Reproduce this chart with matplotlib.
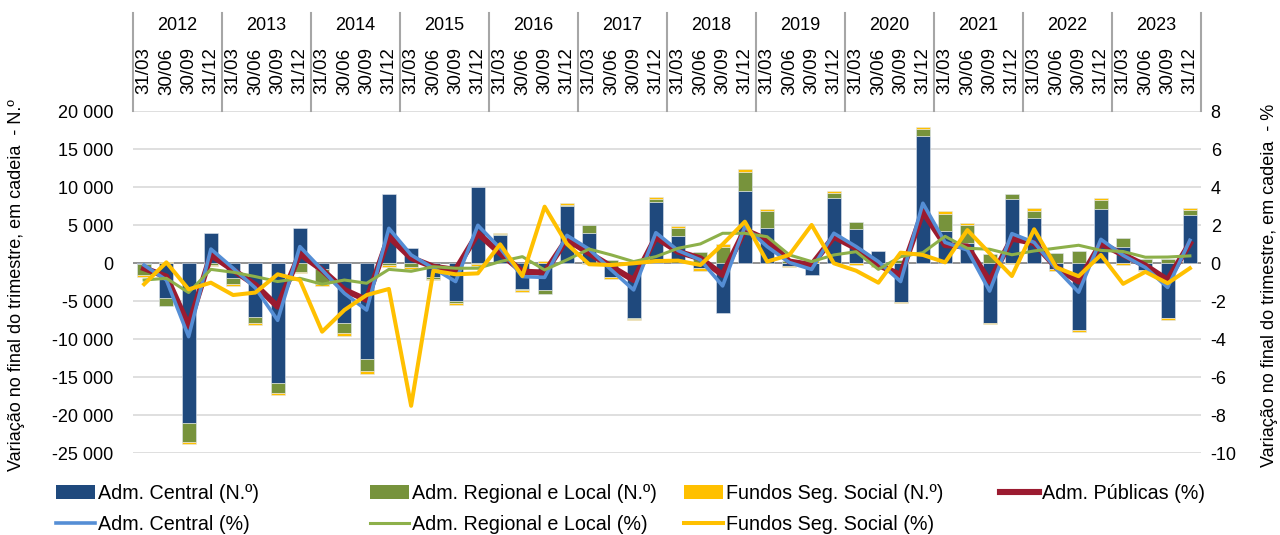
import matplotlib
matplotlib.use("Agg")
import matplotlib.pyplot as plt
from matplotlib.patches import Patch
from matplotlib.lines import Line2D
import numpy as np

plt.rcParams['font.family'] = ['Liberation Sans', 'DejaVu Sans']

years = ['2012', '2013', '2014', '2015', '2016', '2017', '2018', '2019', '2020', '2021', '2022', '2023']
quarters = ['31/03', '30/06', '30/09', '31/12']

# Bars (N.º)
adm_central_n = [-100, -4600, -21000, 4030, -1970, -7000, -15800, 4600, -800, -7900, -12600, 9100,
                 1950, -1800, -5000, 10000, 3700, -3400, -3500, 7600, 3950, -1750, -7200, 8100,
                 3650, -650, -6500, 9560, 4700, -400, -1500, 8640, 4470, 1620, -5090, 16800,
                 4250, 2630, -7900, 8470, 6000, -800, -8770, 7200, 2150, -880, -7240, 6360]
adm_regional_n = [-1450, -1000, -2550, -250, -750, -880, -1300, -1100, -1900, -1300, -1600, -200,
                  -500, -200, -200, -150, 100, -100, -500, 100, 1100, 440, -100, 350,
                  1000, 1450, 2200, 2400, 2200, 300, 100, 660, 900, -150, 500, 880,
                  2300, 2450, 1280, 610, 880, 1300, 1600, 1160, 1120, 530, 530, 680]
fundos_n = [-280, 200, -200, -100, -250, -250, -250, -200, -250, -300, -300, -300,
            -300, -250, -250, -150, 250, -250, 250, 300, -50, -300, -200, 250,
            300, -300, 300, 400, 280, -100, 200, 260, -200, -300, -100, 300,
            300, 270, -50, -50, 350, -200, -300, 260, -200, -170, -260, 300]

# Lines (%)
adm_publicas_pct = [-0.26, -0.7, -3.3, 0.44, -0.35, -1.14, -2.28, 0.5, -0.35, -1.4, -1.93, 1.4,
                    0.28, -0.18, -0.35, 1.58, 0.53, -0.44, -0.49, 1.26, 0.53, -0.18, -0.88, 1.37,
                    0.61, 0.26, -0.61, 1.75, 1.23, 0.09, -0.09, 1.4, 0.79, -0.09, -0.61, 2.72,
                    0.96, 0.88, -0.96, 1.3, 1.07, -0.22, -0.96, 1.05, 0.45, -0.12, -0.88, 1.05]
adm_central_pct = [-0.1, -0.88, -3.86, 0.75, -0.26, -1.3, -3.0, 0.88, -0.35, -1.58, -2.46, 1.84,
                   0.44, -0.26, -0.96, 2.0, 0.79, -0.7, -0.74, 1.47, 0.74, -0.35, -1.4, 1.61,
                   0.67, 0.18, -1.19, 1.93, 0.88, 0.04, -0.32, 1.58, 0.88, 0.09, -0.96, 3.16,
                   1.1, 0.7, -1.46, 1.56, 1.1, -0.3, -1.52, 1.26, 0.42, -0.22, -1.27, 1.21]
adm_regional_pct = [-0.88, -0.79, -1.54, -0.32, -0.47, -0.7, -0.96, -0.79, -1.1, -0.88, -1.05, -0.32,
                    -0.42, -0.18, -0.26, -0.26, 0.09, 0.35, -0.35, 0.18, 0.75, 0.44, 0.09, 0.35,
                    0.79, 1.02, 1.58, 1.58, 1.4, 0.44, 0.09, 0.44, 0.61, -0.32, 0.35, 0.56,
                    1.42, 0.79, 0.74, 0.45, 0.65, 0.8, 0.95, 0.68, 0.62, 0.32, 0.33, 0.39]
fundos_pct = [-1.1, 0.05, -1.37, -1.02, -1.67, -1.54, -0.58, -0.88, -3.6, -2.46, -1.67, -1.35,
              -7.5, -0.39, -0.58, -0.53, 1.0, -0.67, 2.98, 1.02, -0.05, -0.09, 0.0, 0.12,
              0.14, -0.09, 1.0, 2.19, 0.09, 0.44, 2.02, 0.0, -0.39, -1.02, 0.56, 0.44,
              0.05, 1.75, 0.53, -0.67, 1.79, -0.22, -0.68, 0.44, -1.08, -0.45, -1.05, -0.26]

C_NAVY = '#1F497D'
C_GREEN = '#77933C'
C_YELLOW = '#FFC000'
C_RED = '#9B1B30'
C_BLUE = '#558ED5'
C_LGREEN = '#8DB04A'

W, H = 1280, 535
fig = plt.figure(figsize=(W / 100, H / 100), dpi=100)
left_px, right_px, top_px, bot_px = 133, 1201, 111.3, 453.3
ax = fig.add_axes([left_px / W, 1 - bot_px / H, (right_px - left_px) / W, (bot_px - top_px) / H])

n = len(adm_central_n)
x = np.arange(n)
pos_bottom = np.zeros(n)
neg_bottom = np.zeros(n)
for vals, col in [(adm_central_n, C_NAVY), (adm_regional_n, C_GREEN), (fundos_n, C_YELLOW)]:
    v = np.array(vals, dtype=float)
    bottoms = np.where(v >= 0, pos_bottom, neg_bottom)
    ax.bar(x, v, bottom=bottoms, width=0.64, color=col, edgecolor='#E0E6EE', linewidth=0.4, zorder=3)
    pos_bottom += np.where(v >= 0, v, 0)
    neg_bottom += np.where(v < 0, v, 0)

ax.set_xlim(-0.5, n - 0.5)
ax.set_ylim(-25000, 20000)
ax.set_yticks(np.arange(-25000, 20001, 5000))
ax.set_yticklabels([f"{v:,.0f}".replace(",", " ") for v in np.arange(-25000, 20001, 5000)], fontsize=13)
ax.tick_params(axis='y', length=0, pad=14)
ax.set_xticks([])
ax.grid(axis='y', color='#D9D9D9', linewidth=1.2, zorder=0)
ax.axhline(0, color='#8C8C8C', linewidth=1.3, zorder=2)
for s in ax.spines.values():
    s.set_visible(False)

ax2 = ax.twinx()
ax2.set_ylim(-10, 8)
ax2.set_yticks(np.arange(-10, 9, 2))
ax2.set_yticklabels([str(v) for v in np.arange(-10, 9, 2)], fontsize=13)
ax2.tick_params(axis='y', length=0, pad=7)
for s in ax2.spines.values():
    s.set_visible(False)

ax2.plot(x, adm_publicas_pct, color=C_RED, linewidth=4.4, zorder=4)
ax2.plot(x, adm_central_pct, color=C_BLUE, linewidth=2.6, zorder=5)
ax2.plot(x, adm_regional_pct, color=C_LGREEN, linewidth=2.2, zorder=6)
ax2.plot(x, fundos_pct, color=C_YELLOW, linewidth=2.9, zorder=7)

# Header (years / quarters) above plot
trans = ax.get_xaxis_transform()
hpx = bot_px - top_px
y_year = (bot_px - 25) / hpx
y_q = (bot_px - 71) / hpx
y_line_top = (bot_px - 13) / hpx
for k, yr in enumerate(years):
    ax.text(4 * k + 1.5, y_year, yr, transform=trans, ha='center', va='center', fontsize=13, clip_on=False)
    for j, q in enumerate(quarters):
        ax.text(4 * k + j, y_q, q, transform=trans, ha='center', va='center', rotation=90,
                fontsize=13.5, clip_on=False)
for k in range(len(years) + 1):
    ax.plot([4 * k - 0.5, 4 * k - 0.5], [1.0, y_line_top], transform=trans, color='#A6A6A6',
            linewidth=1.5, clip_on=False)

fig.text(17 / W, 1 - 285 / H, 'Variação no final do trimestre, em cadeia  - N.º', rotation=90,
         ha='center', va='center', fontsize=13)
fig.text(1270 / W, 1 - 285 / H, 'Variação no final do trimestre, em cadeia  - %', rotation=90,
         ha='center', va='center', fontsize=13)

# Legend: 4 columns
columns = [
    [Patch(facecolor=C_NAVY, label='Adm. Central (N.º)'), Line2D([], [], color=C_BLUE, lw=2.6, label='Adm. Central (%)')],
    [Patch(facecolor=C_GREEN, label='Adm. Regional e Local (N.º)'), Line2D([], [], color=C_LGREEN, lw=2.2, label='Adm. Regional e Local (%)')],
    [Patch(facecolor=C_YELLOW, label='Fundos Seg. Social (N.º)'), Line2D([], [], color=C_YELLOW, lw=2.9, label='Fundos Seg. Social (%)')],
    [Line2D([], [], color=C_RED, lw=4.4, label='Adm. Públicas (%)')],
]
col_x = [56, 370, 684, 1000]
for cx, handles in zip(col_x, columns):
    leg = fig.legend(handles=handles, loc='upper left', bbox_to_anchor=(cx / W, 1 - 484 / H),
                     frameon=False, fontsize=14.2, handlelength=2.0, handleheight=0.7,
                     handletextpad=0.12, labelspacing=0.6, borderpad=0, borderaxespad=0)

fig.savefig('out.png', dpi=100)
